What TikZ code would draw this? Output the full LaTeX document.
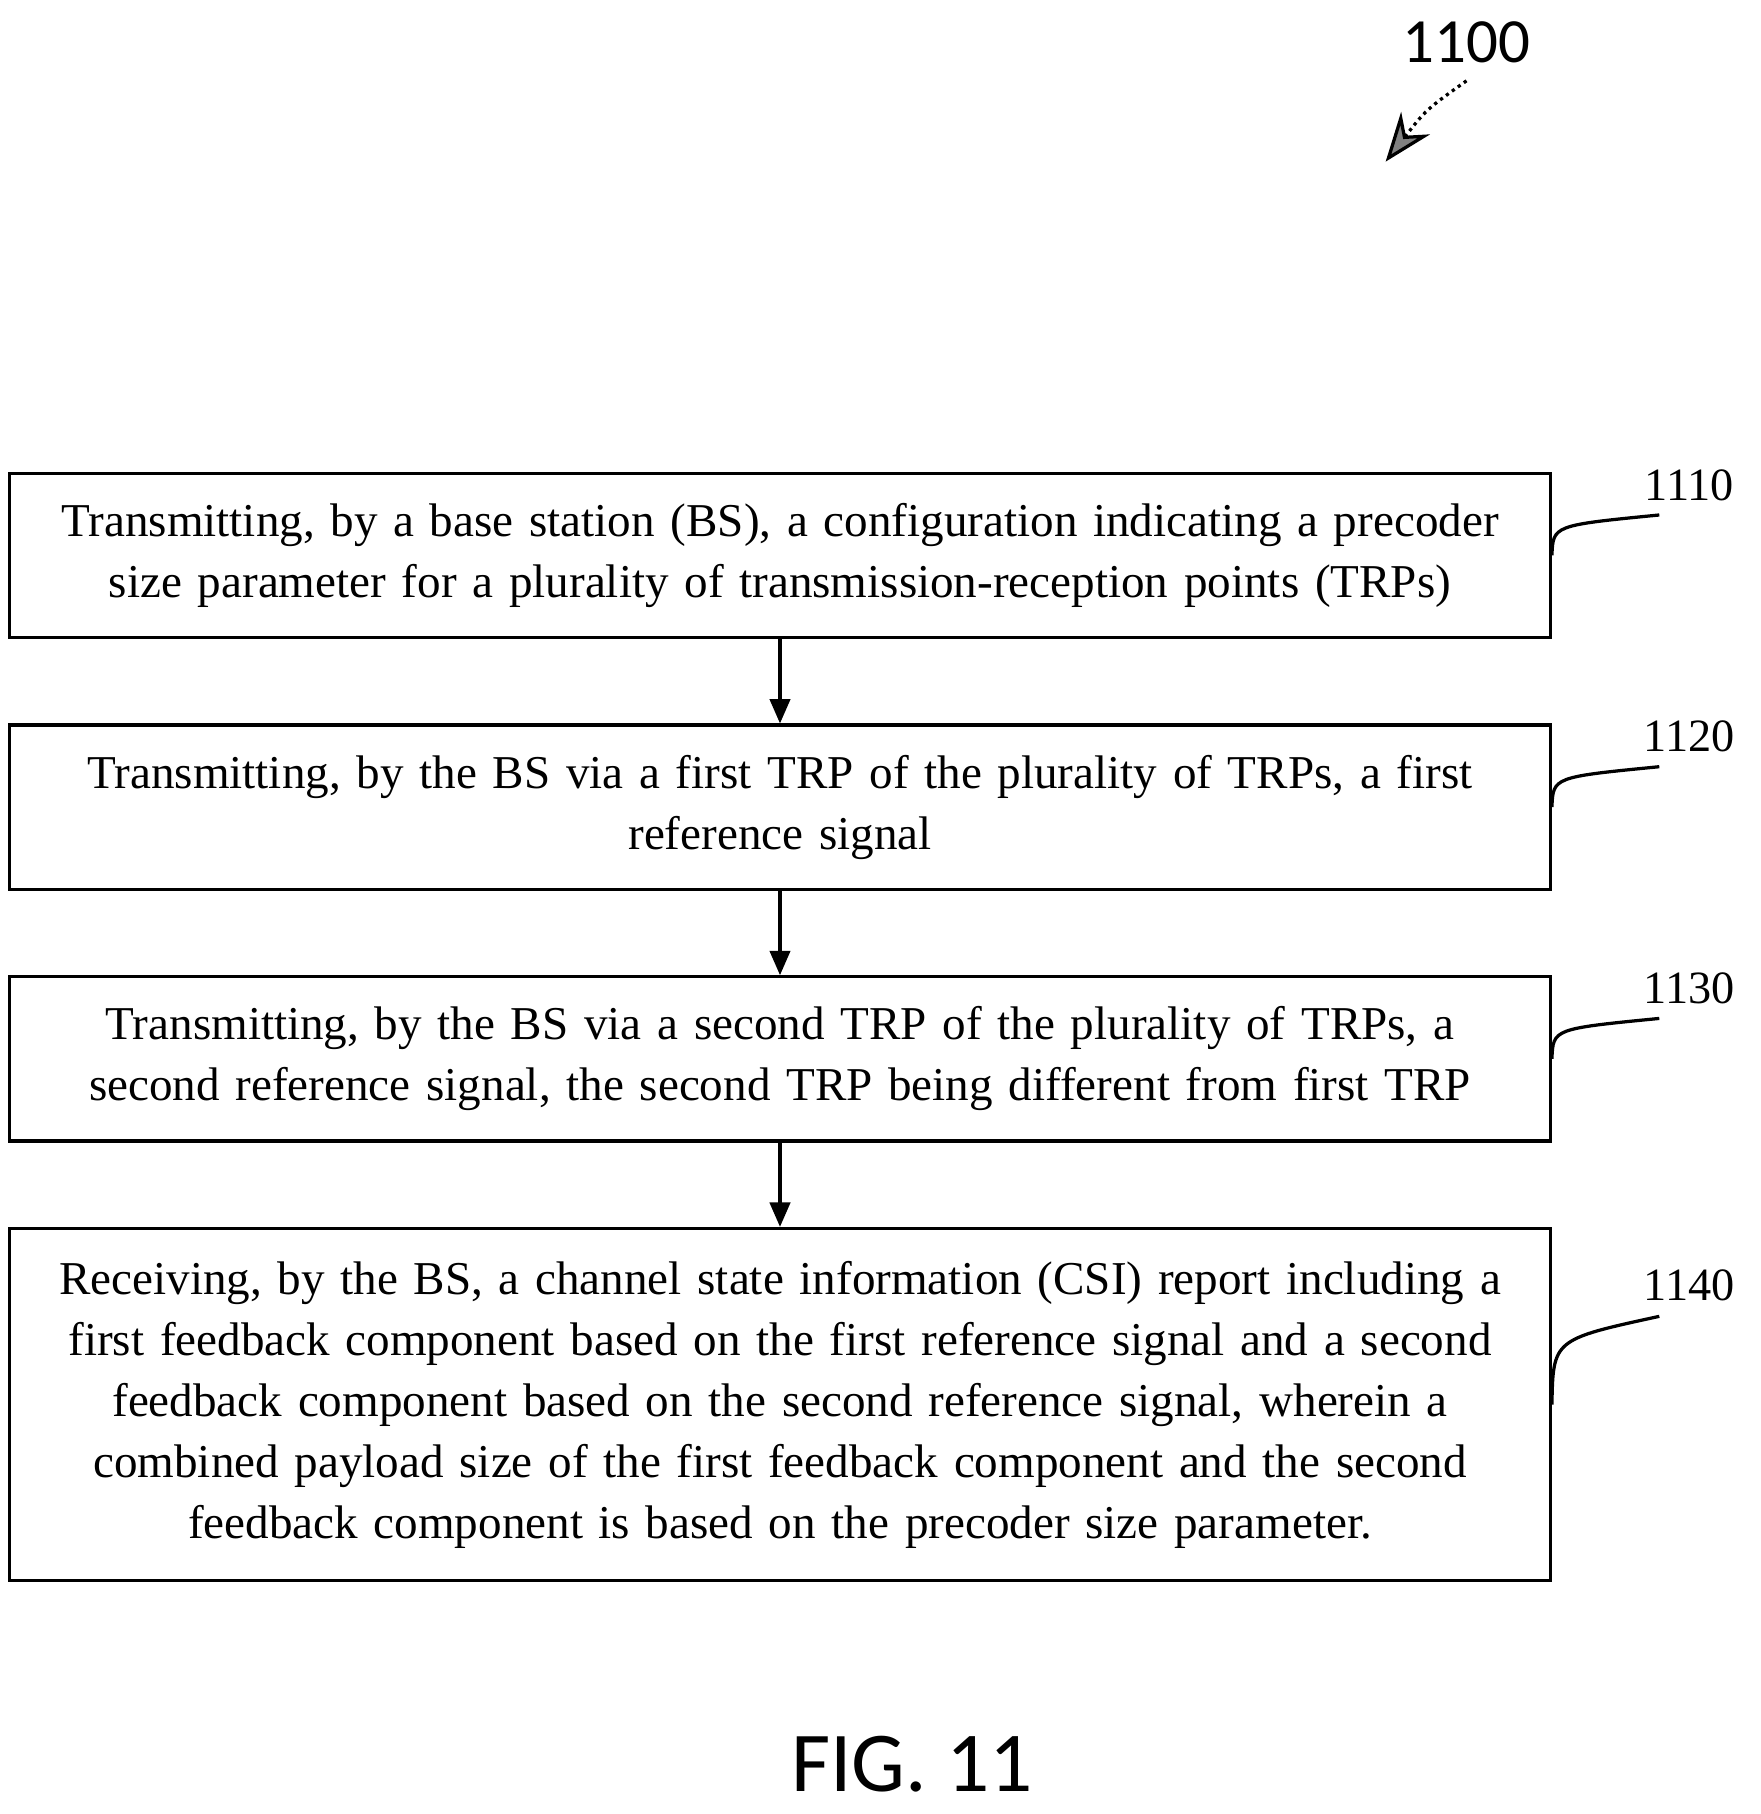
\documentclass[tikz,border=0pt]{standalone}
\usepackage{fontspec}
\setmainfont{Liberation Serif}
\newfontfamily\labelfont{Carlito}
\usetikzlibrary{arrows.meta,positioning}
\tikzset{
  stepbox/.style={draw, thick, minimum width=13.15cm, text width=13.1cm, align=center,
    font=\fontsize{11.6}{15}\selectfont},
  flow/.style={-{Triangle[length=6pt,width=5pt]}, thick},
  tag/.style={font=\fontsize{11.4}{14}\selectfont}
}
\begin{document}
\begin{tikzpicture}[x=0.01cm,y=-0.01cm]
    \useasboundingbox (0,0) rectangle (1525,1571);

    \node[stepbox, minimum height=1.42cm] (s1) at (675.5,481) {Transmitting, by a base station (BS), a configuration indicating a precoder\\ size parameter for a plurality of transmission-reception points (TRPs)};
    \node[stepbox, minimum height=1.42cm] (s2) at (675.5,699) {Transmitting, by the BS via a first TRP of the plurality of TRPs, a first\\ reference signal};
    \node[stepbox, minimum height=1.42cm] (s3) at (675.5,917) {Transmitting, by the BS via a second TRP of the plurality of TRPs, a\\ second reference signal, the second TRP being different from first TRP};
    \node[stepbox, minimum height=3.05cm] (s4) at (675.5,1216.5) {Receiving, by the BS, a channel state information (CSI) report including a\\ first feedback component based on the first reference signal and a second\\ feedback component based on the second reference signal, wherein a\\ combined payload size of the first feedback component and the second\\ feedback component is based on the precoder size parameter.};

    \draw[flow] (s1) -- (s2);
    \draw[flow] (s2) -- (s3);
    \draw[flow] (s3) -- (s4);

    % step numbers
    \node[tag] (t1) at (1463,420) {1110};
    \node[tag] (t2) at (1463,638) {1120};
    \node[tag] (t3) at (1463,856) {1130};
    \node[tag] (t4) at (1463,1113) {1140};
    \draw[thick] (s1.east) .. controls (1345,455) .. (1437,446);
    \draw[thick] (s2.east) .. controls (1345,673) .. (1437,664);
    \draw[thick] (s3.east) .. controls (1345,891) .. (1437,882);
    \draw[thick] (s4.east) .. controls (1345,1160) .. (1437,1140);

    \node[font=\labelfont\fontsize{15.5}{18}\selectfont] (fig) at (1270,37) {1100};
    \coordinate (pt) at (1200,140);
    \draw[densely dotted, thick, -{Stealth[length=12pt,width=9pt,fill=gray]}] (1270,70) .. controls (1235,95) .. (pt);

    \node[font=\labelfont\fontsize{21}{24}\selectfont] (cap) at (790,1528) {FIG. 11};
\end{tikzpicture}
\end{document}
